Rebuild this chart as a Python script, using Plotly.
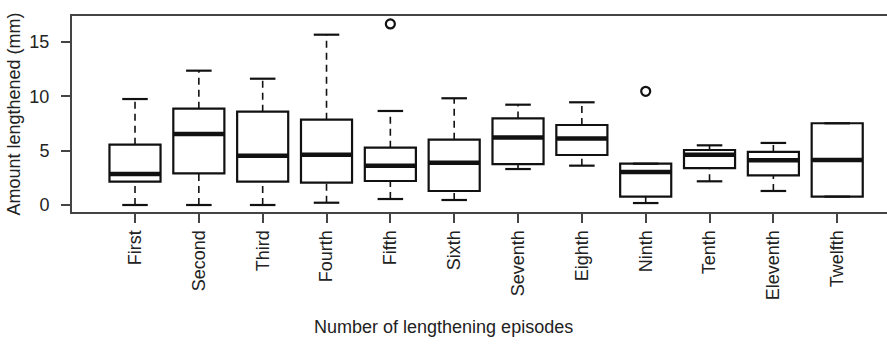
import plotly.graph_objects as go

categories = ["First", "Second", "Third", "Fourth", "Fifth", "Sixth",
              "Seventh", "Eighth", "Ninth", "Tenth", "Eleventh", "Twelfth"]
whisker_low = [0.0, 0.0, 0.0, 0.21, 0.55, 0.46, 3.31, 3.62, 0.18, 2.18, 1.29, 0.77]
q1 = [2.15, 2.91, 2.15, 2.05, 2.21, 1.29, 3.77, 4.60, 0.77, 3.40, 2.73, 0.77]
median = [2.85, 6.53, 4.54, 4.63, 3.62, 3.89, 6.20, 6.13, 3.04, 4.63, 4.11, 4.14]
q3 = [5.55, 8.86, 8.59, 7.85, 5.27, 6.01, 7.97, 7.36, 3.80, 5.06, 4.88, 7.52]
whisker_high = [9.75, 12.36, 11.62, 15.67, 8.65, 9.82, 9.23, 9.45, 3.80, 5.49, 5.71, 7.52]
outlier_cat = ["Fifth", "Ninth"]
outlier_val = [16.66, 10.46]
y_ticks = [0, 5, 10, 15]

pos = list(range(1, len(categories) + 1))
BOXW = 0.8
CAPW = 0.4
INK = "#111111"
FONT = "Liberation Sans, Arial, sans-serif"

fig = go.Figure()

# whiskers (dashed)
wx, wy = [], []
for p, lo, a, b, hi in zip(pos, whisker_low, q1, q3, whisker_high):
    if lo < a:
        wx += [p, p, None]
        wy += [lo, a, None]
    if hi > b:
        wx += [p, p, None]
        wy += [b, hi, None]
fig.add_trace(go.Scatter(x=wx, y=wy, mode="lines",
                         line=dict(color=INK, width=1.6, dash="7px,5px"),
                         hoverinfo="skip", showlegend=False))

# caps
cx, cy = [], []
for p, lo, hi in zip(pos, whisker_low, whisker_high):
    cx += [p - CAPW / 2, p + CAPW / 2, None, p - CAPW / 2, p + CAPW / 2, None]
    cy += [lo, lo, None, hi, hi, None]
fig.add_trace(go.Scatter(x=cx, y=cy, mode="lines",
                         line=dict(color=INK, width=2.2),
                         hoverinfo="skip", showlegend=False))

# boxes
fig.add_trace(go.Box(x=pos, q1=q1, median=median, q3=q3,
                     lowerfence=q1, upperfence=q3, width=BOXW,
                     line=dict(color=INK, width=2.2), fillcolor="white",
                     whiskerwidth=0, showlegend=False))

# medians (thick)
mx, my = [], []
for p, m in zip(pos, median):
    mx += [p - BOXW / 2, p + BOXW / 2, None]
    my += [m, m, None]
fig.add_trace(go.Scatter(x=mx, y=my, mode="lines",
                         line=dict(color=INK, width=4.5),
                         hoverinfo="skip", showlegend=False))

# outliers
ox = [pos[categories.index(c)] for c in outlier_cat]
fig.add_trace(go.Scatter(x=ox, y=outlier_val, mode="markers",
                         marker=dict(symbol="circle-open", size=9, color=INK,
                                     line=dict(color=INK, width=2.2)),
                         showlegend=False))

fig.update_layout(
    width=887, height=359,
    margin=dict(l=72, r=0, t=16, b=147),
    paper_bgcolor="white", plot_bgcolor="white",
    font=dict(family=FONT, size=18, color="#222222"),
    showlegend=False,
    annotations=[dict(text="Number of lengthening episodes", xref="paper",
                      yref="paper", x=(443 - 72) / 815, y=-(327 - 212) / 196,
                      xanchor="center", yanchor="middle", showarrow=False,
                      font=dict(size=18))],
)
fig.update_xaxes(
    range=[0.013, 12.78], tickmode="array", tickvals=pos, ticktext=categories,
    tickangle=-90, ticks="outside", ticklen=9, tickwidth=2, tickcolor="#444444",
    showline=True, linecolor="#444444", linewidth=2, mirror=True,
    showgrid=False, zeroline=False, automargin=False,
    tickfont=dict(size=18),
)
fig.update_yaxes(
    range=[-0.644, 17.39], tickmode="array", tickvals=y_ticks,
    ticks="outside", ticklen=9, tickwidth=2, tickcolor="#444444",
    ticklabelstandoff=8,
    showline=True, linecolor="#444444", linewidth=2, mirror=False,
    showgrid=False, zeroline=False, automargin=False,
    title=dict(text="Amount lengthened (mm)", standoff=4, font=dict(size=18)),
    tickfont=dict(size=18),
)

fig.write_html(
    "out.html",
    config={"displayModeBar": False},
    post_script="document.body.style.margin='0';document.body.style.overflow='hidden';",
)
